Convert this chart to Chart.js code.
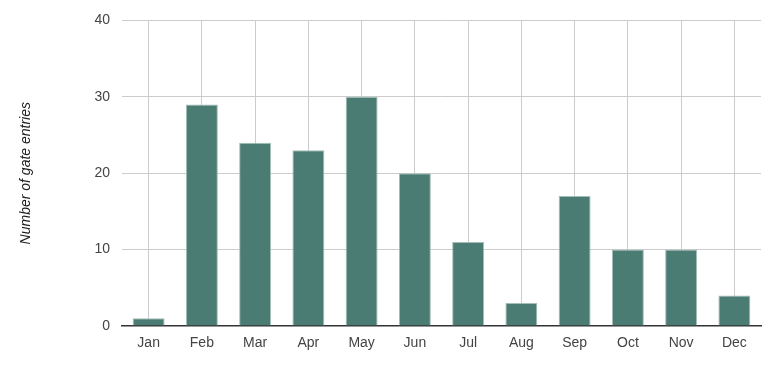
<!DOCTYPE html>
<html>
<head>
<meta charset="utf-8">
<script src="https://cdn.jsdelivr.net/npm/chart.js@4"></script>
<style>
  html, body { margin: 0; padding: 0; background: #fff; }
  #wrap { width: 779px; height: 366px; }
</style>
</head>
<body>
<div id="wrap"><canvas id="chart"></canvas></div>
<script>
const months = ['Jan','Feb','Mar','Apr','May','Jun','Jul','Aug','Sep','Oct','Nov','Dec'];
const entries = [1, 29, 24, 23, 30, 20, 11, 3, 17, 10, 10, 4];
const yTicks = [0, 10, 20, 30, 40];

const font = { family: '"Liberation Sans", Arial, sans-serif', size: 14 };

new Chart(document.getElementById('chart').getContext('2d'), {
  type: 'bar',
  data: {
    labels: months,
    datasets: [{
      data: entries,
      backgroundColor: '#4a7c73',
      borderColor: '#a3bdb7',
      borderWidth: 1,
      barPercentage: 0.6,
      categoryPercentage: 1
    }]
  },
  options: {
    responsive: true,
    maintainAspectRatio: false,
    animation: false,
    devicePixelRatio: 1,
    layout: { padding: { left: 18, right: 18, top: 18, bottom: 0 } },
    plugins: { legend: { display: false }, tooltip: { enabled: false } },
    scales: {
      x: {
        grid: { color: '#cccccc', offset: false, drawTicks: false },
        border: { color: '#333333', width: 1.5 },
        ticks: { color: '#444', font, padding: 9 },
        afterFit: s => { s.height = 40; }
      },
      y: {
        min: 0, max: 40,
        afterBuildTicks: s => { s.ticks = yTicks.map(v => ({ value: v })); },
        grid: { color: ctx => ctx.tick && ctx.tick.value === 0 ? 'rgba(0,0,0,0)' : '#cccccc', drawTicks: false },
        border: { display: false },
        ticks: { color: '#444', font, padding: 12 },
        title: {
          display: true,
          text: 'Number of gate entries',
          color: '#222',
          font: { family: font.family, size: 14, style: 'italic' },
          padding: 0
        },
        afterFit: s => { s.width = 104; }
      }
    }
  }
});
</script>
</body>
</html>
